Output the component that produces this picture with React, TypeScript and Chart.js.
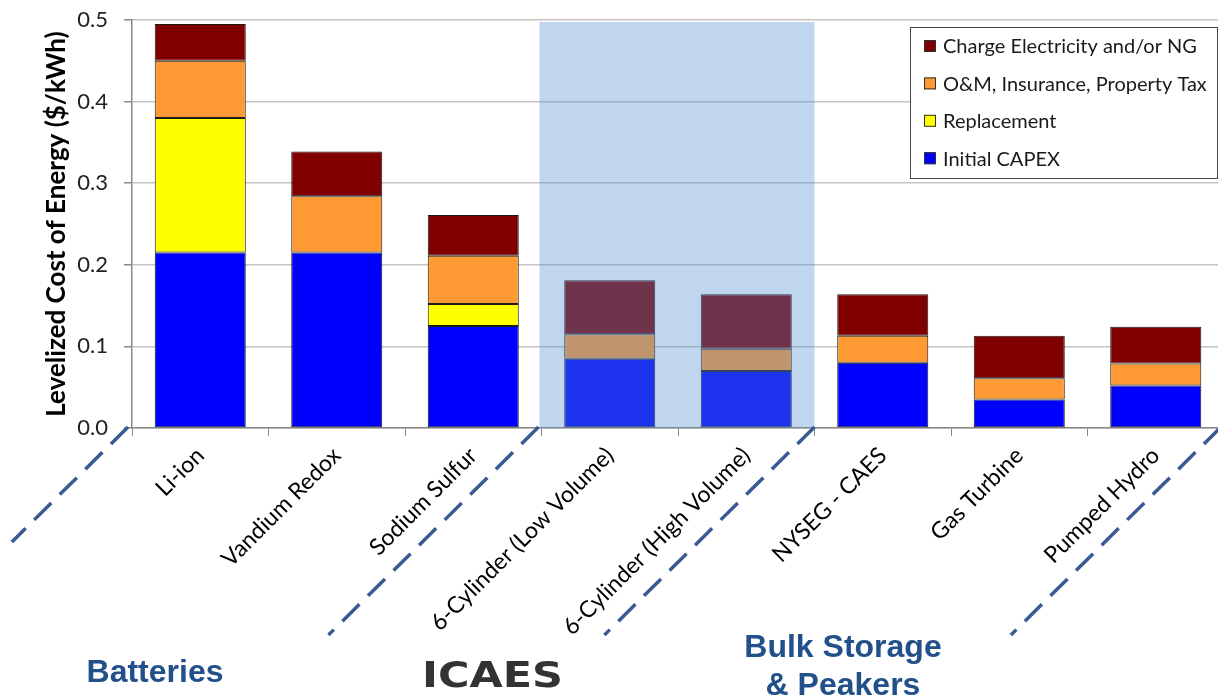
import React, { useEffect, useRef } from "react";
import { Chart, registerables } from "chart.js";

Chart.register(...registerables);

// ---------- data ----------
const categories = [
  "Li-ion",
  "Vandium Redox",
  "Sodium Sulfur",
  "6-Cylinder (Low Volume)",
  "6-Cylinder (High Volume)",
  "NYSEG - CAES",
  "Gas Turbine",
  "Pumped Hydro",
];
const initialCapex = [0.215, 0.215, 0.125, 0.085, 0.07, 0.08, 0.035, 0.052];
const replacement = [0.165, 0, 0.027, 0, 0, 0, 0, 0];
const omInsurance = [0.07, 0.069, 0.059, 0.03, 0.027, 0.033, 0.026, 0.027];
const chargeElectricity = [0.045, 0.055, 0.05, 0.066, 0.067, 0.051, 0.052, 0.045];
const seriesLabels = [
  "Initial CAPEX",
  "Replacement",
  "O&M, Insurance, Property Tax",
  "Charge Electricity and/or NG",
];
const yTickValues = [0, 0.1, 0.2, 0.3, 0.4, 0.5];
const yAxisTitle = "Levelized Cost of Energy ($/kWh)";
const groupLabels = ["Batteries", "ICAES", "Bulk Storage", "& Peakers"];
const highlightedCategories = [3, 4];

const FONT = "Lato, 'Open Sans', sans-serif";
const COLORS = ["#0000ff", "#ffff00", "#ff9933", "#800000"];

const decorPlugin = {
  id: "decor",
  afterDatasetsDraw(chart: any) {
    const { ctx } = chart;
    const x = chart.scales.x;
    const y = chart.scales.y;
    const left = x.getPixelForValue(highlightedCategories[0] - 0.5) - 2;
    const right = x.getPixelForValue(highlightedCategories[1] + 0.5);
    const top = y.getPixelForValue(0.4975);
    const bottom = y.getPixelForValue(0);
    ctx.save();
    ctx.fillStyle = "rgba(82,140,208,0.365)";
    ctx.fillRect(left, top, right - left, bottom - top);
    ctx.restore();
  },
  afterDraw(chart: any) {
    const { ctx } = chart;
    const x = chart.scales.x;
    const y = chart.scales.y;
    const base = y.getPixelForValue(0);

    // dashed separators
    const seps = [
      { b: -0.5, dx: -4, len: 115 },
      { b: 2.5, dx: -3, len: 208 },
      { b: 4.5, dx: 0, len: 208 },
      { b: 7.5, dx: -3, len: 208 },
    ];
    ctx.save();
    ctx.strokeStyle = "#3a5a94";
    ctx.lineWidth = 3.5;
    ctx.setLineDash([24, 12]);
    seps.forEach((s) => {
      const x0 = x.getPixelForValue(s.b) + s.dx;
      ctx.beginPath();
      ctx.moveTo(x0, base - 1);
      ctx.lineTo(x0 - s.len * 1.01, base - 1 + s.len);
      ctx.stroke();
    });
    ctx.restore();

    // legend
    const lx = 910, ly = 27, lw = 307, lh = 151;
    ctx.save();
    ctx.fillStyle = "#ffffff";
    ctx.fillRect(lx, ly, lw, lh);
    ctx.strokeStyle = "#444";
    ctx.lineWidth = 1;
    ctx.strokeRect(lx + 0.5, ly + 0.5, lw, lh);
    const datasets = chart.data.datasets.slice().reverse();
    datasets.forEach((ds: any, i: number) => {
      const cy = 46 + i * 37.4;
      ctx.fillStyle = ds.backgroundColor;
      ctx.fillRect(924, cy - 6, 12, 12);
      ctx.strokeStyle = "#333";
      ctx.strokeRect(924.5, cy - 5.5, 11, 11);
      ctx.fillStyle = "#1a1a1a";
      ctx.font = `20px ${FONT}`;
      ctx.textAlign = "left";
      ctx.textBaseline = "middle";
      ctx.fillText(ds.label, 943, cy + 1);
    });
    ctx.restore();

    // group labels
    ctx.save();
    ctx.fillStyle = "#22508a";
    ctx.font = "bold 32px 'Liberation Sans', Arial, sans-serif";
    ctx.textAlign = "center";
    ctx.textBaseline = "alphabetic";
    ctx.fillText(groupLabels[0], 155, 682);
    ctx.fillText(groupLabels[2], 843, 657);
    ctx.fillText(groupLabels[3], 843, 695);

    ctx.fillStyle = "#333333";
    ctx.font = "900 36px 'DejaVu Sans', 'Liberation Sans', sans-serif";
    const w = ctx.measureText(groupLabels[1]).width;
    ctx.translate(422, 687);
    ctx.scale(141 / w, 1);
    ctx.textAlign = "left";
    ctx.fillText(groupLabels[1], 0, 0);
    ctx.restore();
  },
};

export default function App() {
  const ref = useRef<HTMLCanvasElement | null>(null);

  useEffect(() => {
    document.body.style.margin = "0";
    const canvas = ref.current;
    if (!canvas) return;
    const mk = (label: string, data: number[], color: string) => ({
      label,
      data,
      backgroundColor: color,
      borderColor: "#1a1a1a",
      borderWidth: 1,
      borderSkipped: false,
      categoryPercentage: 1,
      barPercentage: 0.667,
    });
    const chart = new Chart(canvas, {
      type: "bar",
      data: {
        labels: categories,
        datasets: [
          mk(seriesLabels[0], initialCapex, COLORS[0]),
          mk(seriesLabels[1], replacement, COLORS[1]),
          mk(seriesLabels[2], omInsurance, COLORS[2]),
          mk(seriesLabels[3], chargeElectricity, COLORS[3]),
        ],
      },
      options: {
        responsive: false,
        animation: false,
        layout: { padding: { top: 20, right: 2, left: 0, bottom: 0 } },
        plugins: {
          legend: { display: false },
          tooltip: { enabled: false },
        },
        scales: {
          x: {
            stacked: true,
            afterFit: (s: any) => {
              s.height = 272;
            },
            grid: {
              drawOnChartArea: false,
              drawTicks: true,
              tickLength: 8,
              color: "#888",
            },
            border: { color: "#888", width: 1.5 },
            ticks: {
              autoSkip: false,
              minRotation: 45,
              maxRotation: 45,
              padding: 6,
              color: "#000",
              font: { family: FONT, size: 23 },
            },
          },
          y: {
            stacked: true,
            min: 0,
            max: 0.5,
            afterFit: (s: any) => {
              s.width = 132;
              s.paddingTop = 0;
              s.paddingBottom = 0;
            },
            afterBuildTicks: (s: any) => {
              s.ticks = yTickValues.map((v) => ({ value: v }));
            },
            grid: {
              color: "#c4c4c4",
              lineWidth: 1.5,
              tickLength: 8,
              tickColor: "#888",
            },
            border: { color: "#888", width: 1.5 },
            ticks: {
              padding: 16,
              color: "#222",
              font: { family: FONT, size: 22 },
              callback: (v: any) => Number(v).toFixed(1),
            },
            title: {
              display: true,
              text: yAxisTitle,
              color: "#000",
              font: { family: FONT, size: 26, weight: "bold" },
              padding: { top: 41, bottom: 0 },
            },
          },
        },
      },
      plugins: [decorPlugin],
    } as any);
    return () => chart.destroy();
  }, []);

  return (
    <div style={{ width: 1218, height: 700, overflow: "hidden", position: "relative" }}>
      <canvas ref={ref} width={1226} height={700} style={{ display: "block" }} />
    </div>
  );
}
